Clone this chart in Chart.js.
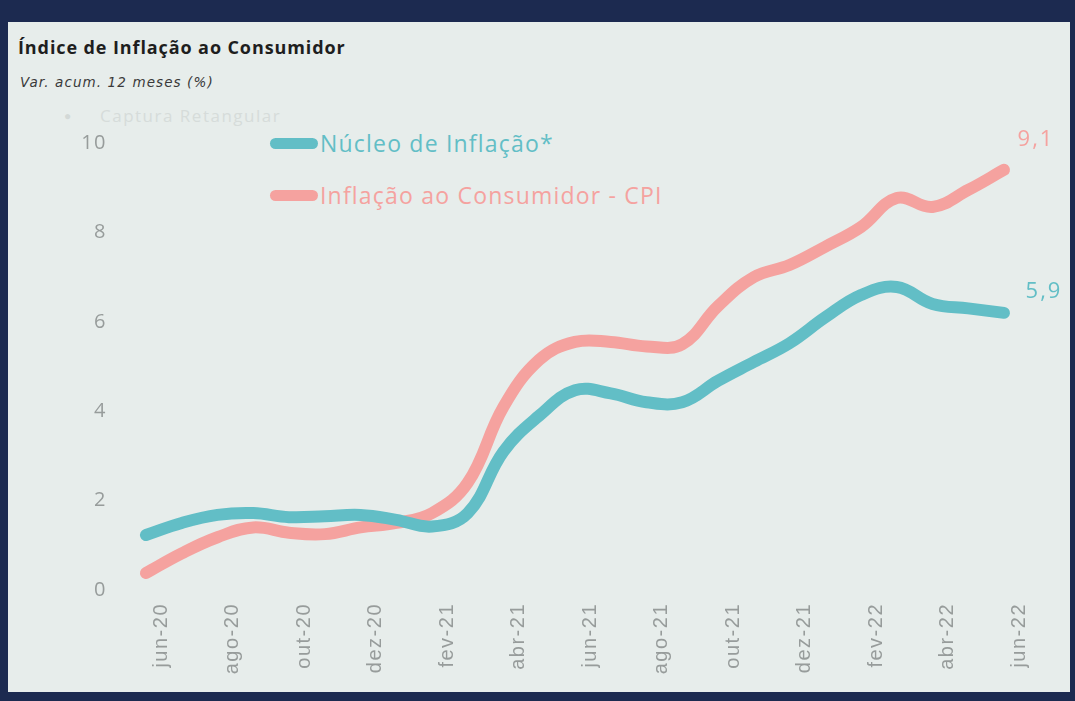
<!DOCTYPE html>
<html lang="pt">
<head>
<meta charset="utf-8">
<title>Índice de Inflação ao Consumidor</title>
<script src="https://cdn.jsdelivr.net/npm/chart.js@4/dist/chart.umd.min.js"></script>
<style>
  html, body { margin: 0; padding: 0; }
  body { width: 1075px; height: 701px; background: #1c2a50; position: relative; overflow: hidden; font-family: "Open Sans", sans-serif; }
  .panel { position: absolute; left: 8px; top: 22px; width: 1062px; height: 670px; background: #e7edeb; }
  .titre { position: absolute; left: 18px; top: 35px; font-size: 18px; font-weight: bold; color: #1e1e1e; letter-spacing: 0.9px; }
  .sous-titre { position: absolute; left: 20px; top: 74px; font-family: "DejaVu Sans", sans-serif; font-size: 13.5px; font-style: italic; color: #3a3a3a; letter-spacing: 1.1px; }
  .point-fantome { position: absolute; left: 64px; top: 107px; font-size: 12px; color: #d3d9d7; }
  .fantome { position: absolute; left: 100px; top: 104px; font-size: 17px; color: #d6dcda; letter-spacing: 1.5px; }
  .legende { position: absolute; left: 270px; font-size: 23px; display: flex; align-items: center; white-space: nowrap; }
  .legende span.trait { display: inline-block; width: 48px; height: 11px; border-radius: 6px; margin-right: 2px; }
  canvas { position: absolute; left: 0; top: 0; }
</style>
</head>
<body>
<div class="panel"></div>
<div class="titre">Índice de Inflação ao Consumidor</div>
<div class="sous-titre">Var. acum. 12 meses (%)</div>
<div class="point-fantome">●</div>
<div class="fantome">Captura Retangular</div>
<div id="legende"></div>
<canvas id="graphe" width="1075" height="701"></canvas>
<script>
// ==================== DONNÉES ====================

const mois = ['jun-20', 'jul-20', 'ago-20', 'set-20', 'out-20', 'nov-20', 'dez-20',
  'jan-21', 'fev-21', 'mar-21', 'abr-21', 'mai-21', 'jun-21', 'jul-21', 'ago-21',
  'set-21', 'out-21', 'nov-21', 'dez-21', 'jan-22', 'fev-22', 'mar-22', 'abr-22',
  'mai-22', 'jun-22'];

const nucleo = [1.23, 1.5, 1.68, 1.72, 1.63, 1.65, 1.68, 1.57, 1.42, 1.72, 3.1, 3.9,
  4.47, 4.4, 4.2, 4.2, 4.68, 5.1, 5.52, 6.1, 6.6, 6.78, 6.4, 6.3, 6.2];

const cpi = [0.38, 0.82, 1.18, 1.4, 1.28, 1.25, 1.4, 1.5, 1.72, 2.4, 4.1, 5.15,
  5.55, 5.55, 5.45, 5.5, 6.35, 7.0, 7.27, 7.68, 8.12, 8.77, 8.57, 8.95, 9.4];

const nomsSeries = ['Núcleo de Inflação*', 'Inflação ao Consumidor - CPI'];
const etiquettesFin = ['5,9', '9,1'];
const ticksY = [0, 2, 4, 6, 8, 10];

const couleurs = ['#62bec6', '#f5a29f'];

// ==================== LÉGENDE ====================

const legende = document.getElementById('legende');
nomsSeries.forEach((nom, i) => {
  const div = document.createElement('div');
  div.className = 'legende';
  div.style.top = (i === 0 ? 127 : 179) + 'px';
  div.style.color = couleurs[i];
  div.style.letterSpacing = '1.2px';
  div.innerHTML = `<span class="trait" style="background:${couleurs[i]}"></span>${nom}`;
  legende.appendChild(div);
});

// ==================== ÉTIQUETTES DE FIN ====================

const espacementPlugin = {
  id: 'espacement',
  beforeDraw(chart) { chart.ctx.letterSpacing = '1.5px'; }
};

const etiquettesPlugin = {
  id: 'etiquettesFin',
  afterDatasetsDraw(chart) {
    const ctx = chart.ctx;
    const decalages = [[40, -21], [32, -30]];
    ctx.save();
    ctx.letterSpacing = '2px';
    ctx.font = '22px "Open Sans"';
    ctx.textAlign = 'center';
    ctx.textBaseline = 'middle';
    chart.data.datasets.forEach((ds, i) => {
      const pts = chart.getDatasetMeta(i).data;
      const p = pts[pts.length - 1];
      ctx.fillStyle = couleurs[i];
      ctx.fillText(etiquettesFin[i], p.x + decalages[i][0], p.y + decalages[i][1]);
    });
    ctx.restore();
  }
};

// ==================== GRAPHIQUE ====================

new Chart(document.getElementById('graphe').getContext('2d'), {
  type: 'line',
  data: {
    labels: mois,
    datasets: [
      { label: nomsSeries[0], data: nucleo, borderColor: couleurs[0] },
      { label: nomsSeries[1], data: cpi, borderColor: couleurs[1] }
    ]
  },
  options: {
    responsive: false,
    animation: false,
    layout: { padding: { top: 143, right: 71, bottom: 0, left: 0 } },
    elements: {
      line: { borderWidth: 12, tension: 0.4, borderCapStyle: 'round', borderJoinStyle: 'round', fill: false },
      point: { radius: 0 }
    },
    datasets: { line: { clip: false } },
    plugins: { legend: { display: false }, tooltip: { enabled: false } },
    scales: {
      x: {
        offset: false,
        grid: { display: false, drawTicks: false },
        border: { display: false },
        afterFit: s => { s.height = 111; },
        ticks: {
          autoSkip: false,
          minRotation: 90,
          maxRotation: 90,
          padding: 13,
          labelOffset: 15,
          color: '#979c9b',
          font: { family: '"Liberation Sans"', size: 20 },
          callback: function (v, i) { return i % 2 === 0 ? this.getLabelForValue(v) : ''; }
        }
      },
      y: {
        min: 0,
        max: 10,
        afterFit: s => { s.width = 146; },
        afterBuildTicks: s => { s.ticks = ticksY.map(v => ({ value: v })); },
        grid: { display: false, drawTicks: false },
        border: { display: false },
        ticks: {
          padding: 39,
          color: '#979c9b',
          font: { family: '"Open Sans"', size: 20 }
        }
      }
    }
  },
  plugins: [espacementPlugin, etiquettesPlugin]
});
</script>
</body>
</html>
